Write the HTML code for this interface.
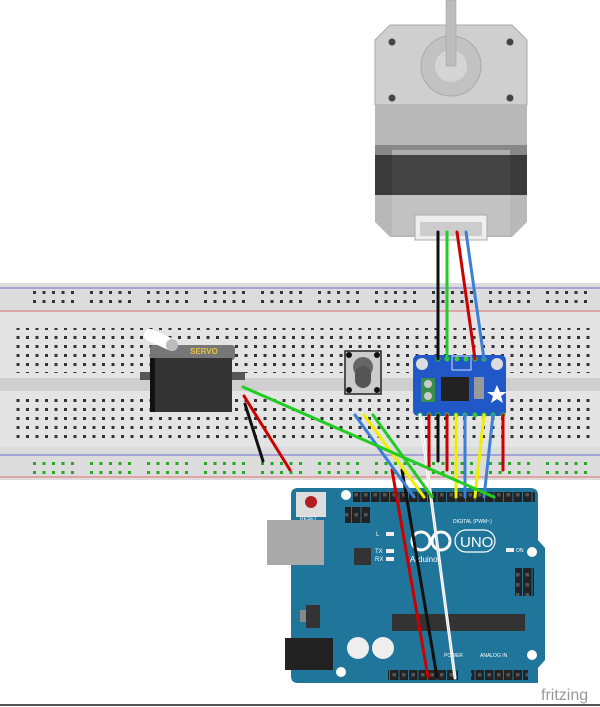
<!DOCTYPE html>
<html><head><meta charset="utf-8"><style>html,body{margin:0;padding:0;background:#fff}svg{display:block}</style></head>
<body>
<svg width="600" height="707" viewBox="0 0 600 707" xmlns="http://www.w3.org/2000/svg" font-family="Liberation Sans, sans-serif">
<defs>
<pattern id="dots" x="4" y="0" width="9.5" height="9" patternUnits="userSpaceOnUse"><rect x="3" y="3" width="3" height="3" fill="#333"/></pattern>
<pattern id="rdots" x="30" y="0" width="57" height="9" patternUnits="userSpaceOnUse">
<rect x="3" y="3" width="3" height="3" fill="#333"/><rect x="12.5" y="3" width="3" height="3" fill="#333"/><rect x="22" y="3" width="3" height="3" fill="#333"/><rect x="31.5" y="3" width="3" height="3" fill="#333"/><rect x="41" y="3" width="3" height="3" fill="#333"/></pattern>
<pattern id="gdots" x="30" y="0" width="57" height="9" patternUnits="userSpaceOnUse">
<rect x="3" y="3" width="3" height="3" fill="#2a2"/><rect x="12.5" y="3" width="3" height="3" fill="#2a2"/><rect x="22" y="3" width="3" height="3" fill="#2a2"/><rect x="31.5" y="3" width="3" height="3" fill="#2a2"/><rect x="41" y="3" width="3" height="3" fill="#2a2"/></pattern>
<pattern id="hdr" x="0" y="0" width="9.5" height="10" patternUnits="userSpaceOnUse"><rect x="0.5" y="0" width="8.5" height="10" fill="#222"/><rect x="3" y="3" width="3.5" height="3.5" fill="#555"/></pattern>
</defs>

<!-- stepper motor -->
<polygon points="390,25 512,25 527,40 527,105 375,105 375,40" fill="#cfcfcf" stroke="#aaa"/>
<circle cx="451" cy="66" r="30" fill="#c2c2c2" stroke="#aaa"/>
<circle cx="451" cy="66" r="16" fill="#d5d5d5"/>
<rect x="446" y="0" width="10" height="66" fill="#bdbdbd" stroke="#999" stroke-width="0.5"/>
<circle cx="392" cy="42" r="3.5" fill="#444"/><circle cx="510" cy="42" r="3.5" fill="#444"/>
<circle cx="392" cy="98" r="3.5" fill="#444"/><circle cx="510" cy="98" r="3.5" fill="#444"/>
<polygon points="375,105 527,105 527,145 510,150 392,150 375,145" fill="#b8b8b8"/>
<rect x="375" y="145" width="152" height="10" fill="#888"/>
<rect x="375" y="155" width="152" height="40" fill="#3a3a3a"/>
<polygon points="375,195 527,195 527,222 512,237 390,237 375,222" fill="#b8b8b8"/>
<rect x="392" y="150" width="118" height="85" fill="#c8c8c8" opacity="0.6"/>
<rect x="392" y="155" width="118" height="40" fill="#444"/>
<rect x="415" y="215" width="72" height="25" fill="#eee" stroke="#aaa"/>
<rect x="420" y="222" width="62" height="14" fill="#ccc"/>

<!-- breadboard -->
<rect x="0" y="283" width="600" height="197" fill="#dcdcdc"/>
<rect x="0" y="312" width="600" height="135" fill="#e4e4e4"/>
<rect x="0" y="378" width="600" height="13" fill="#cfcfcf"/>
<line x1="0" y1="288" x2="600" y2="288" stroke="#6b6bd6" stroke-width="1"/>
<line x1="0" y1="311" x2="600" y2="311" stroke="#e07070" stroke-width="1"/>
<line x1="0" y1="455" x2="600" y2="455" stroke="#6b6bd6" stroke-width="1"/>
<line x1="0" y1="477" x2="600" y2="477" stroke="#e07070" stroke-width="1"/>
<rect x="28" y="291" width="560" height="18" fill="url(#rdots)"/>
<rect x="28" y="458" width="560" height="18" fill="url(#gdots)"/>
<rect x="10" y="328" width="580" height="45" fill="url(#dots)"/>
<rect x="10" y="393" width="580" height="45" fill="url(#dots)"/>

<!-- servo -->
<rect x="140" y="372" width="105" height="8" fill="#555"/>
<rect x="150" y="345" width="85" height="15" rx="3" fill="#777"/>
<rect x="150" y="358" width="82" height="54" fill="#333"/>
<rect x="150" y="358" width="5" height="54" fill="#111"/>
<text x="190" y="354" font-size="8" font-weight="bold" fill="#e8c040">SERVO</text>
<line x1="150" y1="335" x2="172" y2="345" stroke="#fff" stroke-width="12" stroke-linecap="round"/>
<circle cx="172" cy="345" r="6" fill="#bbb"/>

<!-- potentiometer -->
<rect x="345" y="351" width="36" height="43" fill="#ccc" stroke="#222" stroke-width="1.5"/>
<circle cx="363" cy="367" r="10" fill="#666"/>
<rect x="355" y="366" width="16" height="22" rx="8" fill="#555"/>
<circle cx="349" cy="355" r="3" fill="#111"/><circle cx="377" cy="355" r="3" fill="#111"/>
<circle cx="349" cy="390" r="3" fill="#111"/><circle cx="377" cy="390" r="3" fill="#111"/>

<!-- driver board -->
<rect x="413" y="355" width="93" height="61" rx="5" fill="#2058c8"/>
<circle cx="422" cy="364" r="6" fill="#ddd"/><circle cx="497" cy="364" r="6" fill="#ddd"/>
<rect x="421" y="378" width="14" height="24" fill="#3a8e4a"/>
<circle cx="428" cy="384" r="4" fill="#ccc"/><circle cx="428" cy="396" r="4" fill="#ccc"/>
<rect x="441" y="377" width="28" height="24" fill="#222"/>
<rect x="474" y="377" width="10" height="22" fill="#999"/>
<polygon points="497,385 500,392 507,392 501,396 503,403 497,399 491,403 493,396 487,392 494,392" fill="#fff"/>
<rect x="452" y="356" width="19" height="14" fill="none" stroke="#fff" stroke-width="0.8"/>
<g fill="#3c3">
<circle cx="438" cy="359" r="2.5"/><circle cx="447" cy="359" r="2.5"/><circle cx="457" cy="359" r="2.5"/><circle cx="466" cy="359" r="2.5"/><circle cx="475" cy="359" r="2.5"/><circle cx="484" cy="359" r="2.5"/>
<circle cx="420" cy="415" r="2.5"/><circle cx="429" cy="415" r="2.5"/><circle cx="438" cy="415" r="2.5"/><circle cx="447" cy="415" r="2.5"/><circle cx="456" cy="415" r="2.5"/><circle cx="465" cy="415" r="2.5"/><circle cx="475" cy="415" r="2.5"/><circle cx="484" cy="415" r="2.5"/><circle cx="493" cy="415" r="2.5"/><circle cx="503" cy="415" r="2.5"/>
</g>

<!-- arduino -->
<path d="M291,495 Q291,488 298,488 L530,488 Q538,488 538,495 L538,540 L545,548 L545,660 L538,668 L538,683 L298,683 Q291,683 291,676 Z" fill="#1f769a"/>
<rect x="267" y="520" width="57" height="45" fill="#aaa"/>
<rect x="285" y="638" width="48" height="32" fill="#222"/>
<rect x="296" y="492" width="30" height="25" fill="#ddd"/>
<circle cx="311" cy="502" r="6" fill="#b02020"/>
<text x="300" y="520" font-size="5" fill="#fff">RESET</text>
<rect x="345" y="507" width="25" height="16" fill="url(#hdr)"/>
<rect x="353" y="492" width="115" height="10" fill="url(#hdr)"/>
<rect x="455" y="492" width="80" height="10" fill="url(#hdr)"/>
<rect x="354" y="548" width="17" height="17" fill="#333"/>
<rect x="386" y="532" width="8" height="4" fill="#eee"/><rect x="386" y="549" width="8" height="4" fill="#eee"/><rect x="386" y="557" width="8" height="4" fill="#eee"/>
<text x="376" y="536" font-size="6" fill="#fff">L</text><text x="375" y="553" font-size="6" fill="#fff">TX</text><text x="375" y="561" font-size="6" fill="#fff">RX</text>
<circle cx="421" cy="541" r="9" fill="none" stroke="#fff" stroke-width="3"/><circle cx="441" cy="541" r="9" fill="none" stroke="#fff" stroke-width="3"/>
<rect x="455" y="530" width="40" height="22" rx="11" fill="none" stroke="#fff" stroke-width="1.2"/>
<text x="460" y="547" font-size="15" fill="#fff">UNO</text>
<text x="410" y="562" font-size="8" fill="#fff">Arduino</text>
<text x="453" y="523" font-size="5" fill="#fff">DIGITAL (PWM~)</text>
<rect x="506" y="548" width="8" height="4" fill="#eee"/><text x="516" y="552" font-size="5" fill="#fff">ON</text>
<circle cx="532" cy="552" r="5" fill="#fff"/><circle cx="532" cy="655" r="5" fill="#fff"/><circle cx="341" cy="672" r="5" fill="#fff"/><circle cx="346" cy="495" r="5" fill="#fff"/>
<rect x="515" y="568" width="19" height="28" fill="url(#hdr)"/>
<rect x="306" y="605" width="14" height="23" fill="#333"/><rect x="300" y="610" width="6" height="12" fill="#888"/>
<rect x="392" y="614" width="133" height="17" fill="#333"/>
<circle cx="358" cy="648" r="11" fill="#eee"/><circle cx="383" cy="648" r="11" fill="#eee"/>
<rect x="388" y="670" width="70" height="10" fill="url(#hdr)"/>
<rect x="471" y="670" width="57" height="10" fill="url(#hdr)"/>
<text x="480" y="657" font-size="5" fill="#fff">ANALOG IN</text>
<text x="444" y="657" font-size="5" fill="#fff">POWER</text>

<!-- wires -->
<g stroke-width="3" stroke-linecap="round" fill="none">
<line x1="438" y1="232" x2="438" y2="359" stroke="#111"/>
<line x1="447" y1="232" x2="447" y2="359" stroke="#2c2"/>
<line x1="457" y1="232" x2="475" y2="359" stroke="#c00"/>
<line x1="466" y1="232" x2="484" y2="359" stroke="#3b7fd6"/>
<line x1="420" y1="415" x2="455" y2="678" stroke="#fff"/>
<line x1="420" y1="415" x2="455" y2="678" stroke="#ccc" stroke-width="0.6"/>
<line x1="429" y1="415" x2="429" y2="469" stroke="#c00"/>
<line x1="438" y1="415" x2="438" y2="461" stroke="#111"/>
<line x1="447" y1="415" x2="447" y2="470" stroke="#c00"/>
<line x1="456" y1="415" x2="456" y2="497" stroke="#ee0"/>
<line x1="465" y1="415" x2="465" y2="497" stroke="#3b7fd6"/>
<line x1="484" y1="415" x2="475" y2="497" stroke="#ee0"/>
<line x1="493" y1="415" x2="484" y2="497" stroke="#3b7fd6"/>
<line x1="503" y1="415" x2="503" y2="470" stroke="#c00"/>
<line x1="392" y1="470" x2="428" y2="677" stroke="#c00"/>
<line x1="402" y1="470" x2="437" y2="677" stroke="#111"/>
<line x1="355" y1="415" x2="414" y2="497" stroke="#3b7fd6"/>
<line x1="364" y1="415" x2="424" y2="497" stroke="#ee0"/>
<line x1="373" y1="415" x2="432" y2="497" stroke="#2c2"/>
<line x1="243" y1="387" x2="494" y2="497" stroke="#2c2"/>
<line x1="244" y1="396" x2="290" y2="470" stroke="#c00"/>
<line x1="245" y1="404" x2="263" y2="461" stroke="#111"/>
</g>
<text x="541" y="700" font-size="16" fill="#999">fritzing</text>
<line x1="0" y1="705" x2="600" y2="705" stroke="#555" stroke-width="2"/>
</svg>
</body></html>
